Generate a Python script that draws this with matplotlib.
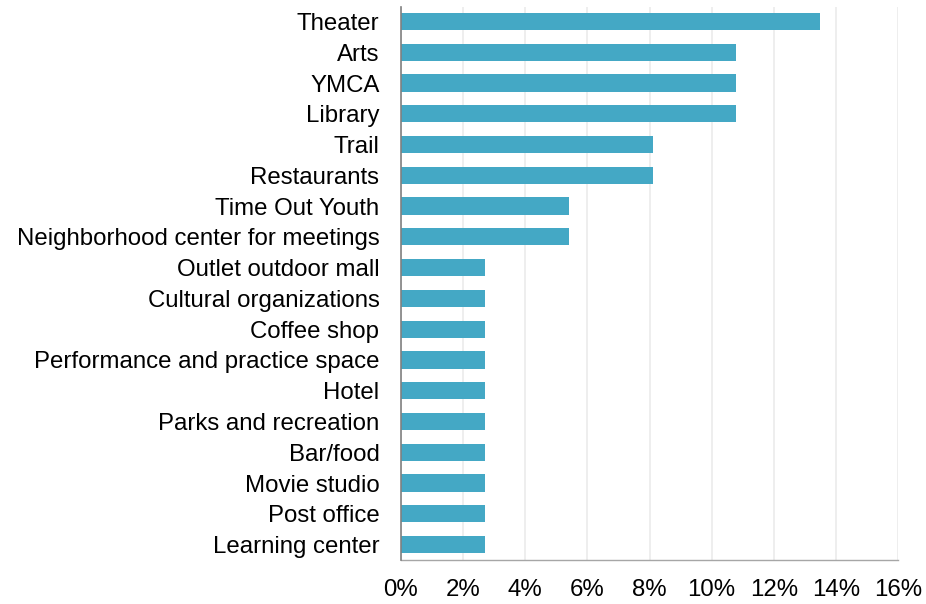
import matplotlib
matplotlib.use("Agg")
import matplotlib.pyplot as plt
from matplotlib.ticker import FuncFormatter

categories = ["Theater", "Arts", "YMCA", "Library", "Trail", "Restaurants",
              "Time Out Youth", "Neighborhood center for meetings",
              "Outlet outdoor mall", "Cultural organizations", "Coffee shop",
              "Performance and practice space", "Hotel", "Parks and recreation",
              "Bar/food", "Movie studio", "Post office", "Learning center"]
values = [13.5, 10.8, 10.8, 10.8, 8.1, 8.1, 5.4, 5.4,
          2.7, 2.7, 2.7, 2.7, 2.7, 2.7, 2.7, 2.7, 2.7, 2.7]
xticks = [0, 2, 4, 6, 8, 10, 12, 14, 16]

plt.rcParams['font.family'] = ['Liberation Sans', 'DejaVu Sans']

fig = plt.figure(figsize=(9.26, 6.04), dpi=100)
ax = fig.add_axes([401/926, 1-560/604, 497/926, 553/604])

ypos = list(range(len(categories)))
ax.barh(ypos, values, height=0.56, color="#44A8C5", zorder=3)
ax.set_ylim(len(categories) - 0.5, -0.47)
ax.set_xlim(0, 16)
ax.set_yticks(ypos)
ax.set_yticklabels(categories, fontsize=17.3, color="#000000")
ax.set_xticks(xticks)
ax.xaxis.set_major_formatter(FuncFormatter(lambda v, p: f"{int(v)}%"))
ax.tick_params(axis='x', labelsize=17.3, length=0, pad=14)
ax.tick_params(axis='y', length=0, pad=15.5)
ax.grid(axis='x', color="#EBEBEB", linewidth=1.2, zorder=0)
for s in ["top", "right"]:
    ax.spines[s].set_visible(False)
ax.spines["left"].set_color("#808080")
ax.spines["left"].set_linewidth(1.2)
ax.spines["bottom"].set_color("#A6A6A6")
ax.spines["bottom"].set_linewidth(1.0)
ax.spines["left"].set_zorder(4)

fig.savefig("out.png", dpi=100)
